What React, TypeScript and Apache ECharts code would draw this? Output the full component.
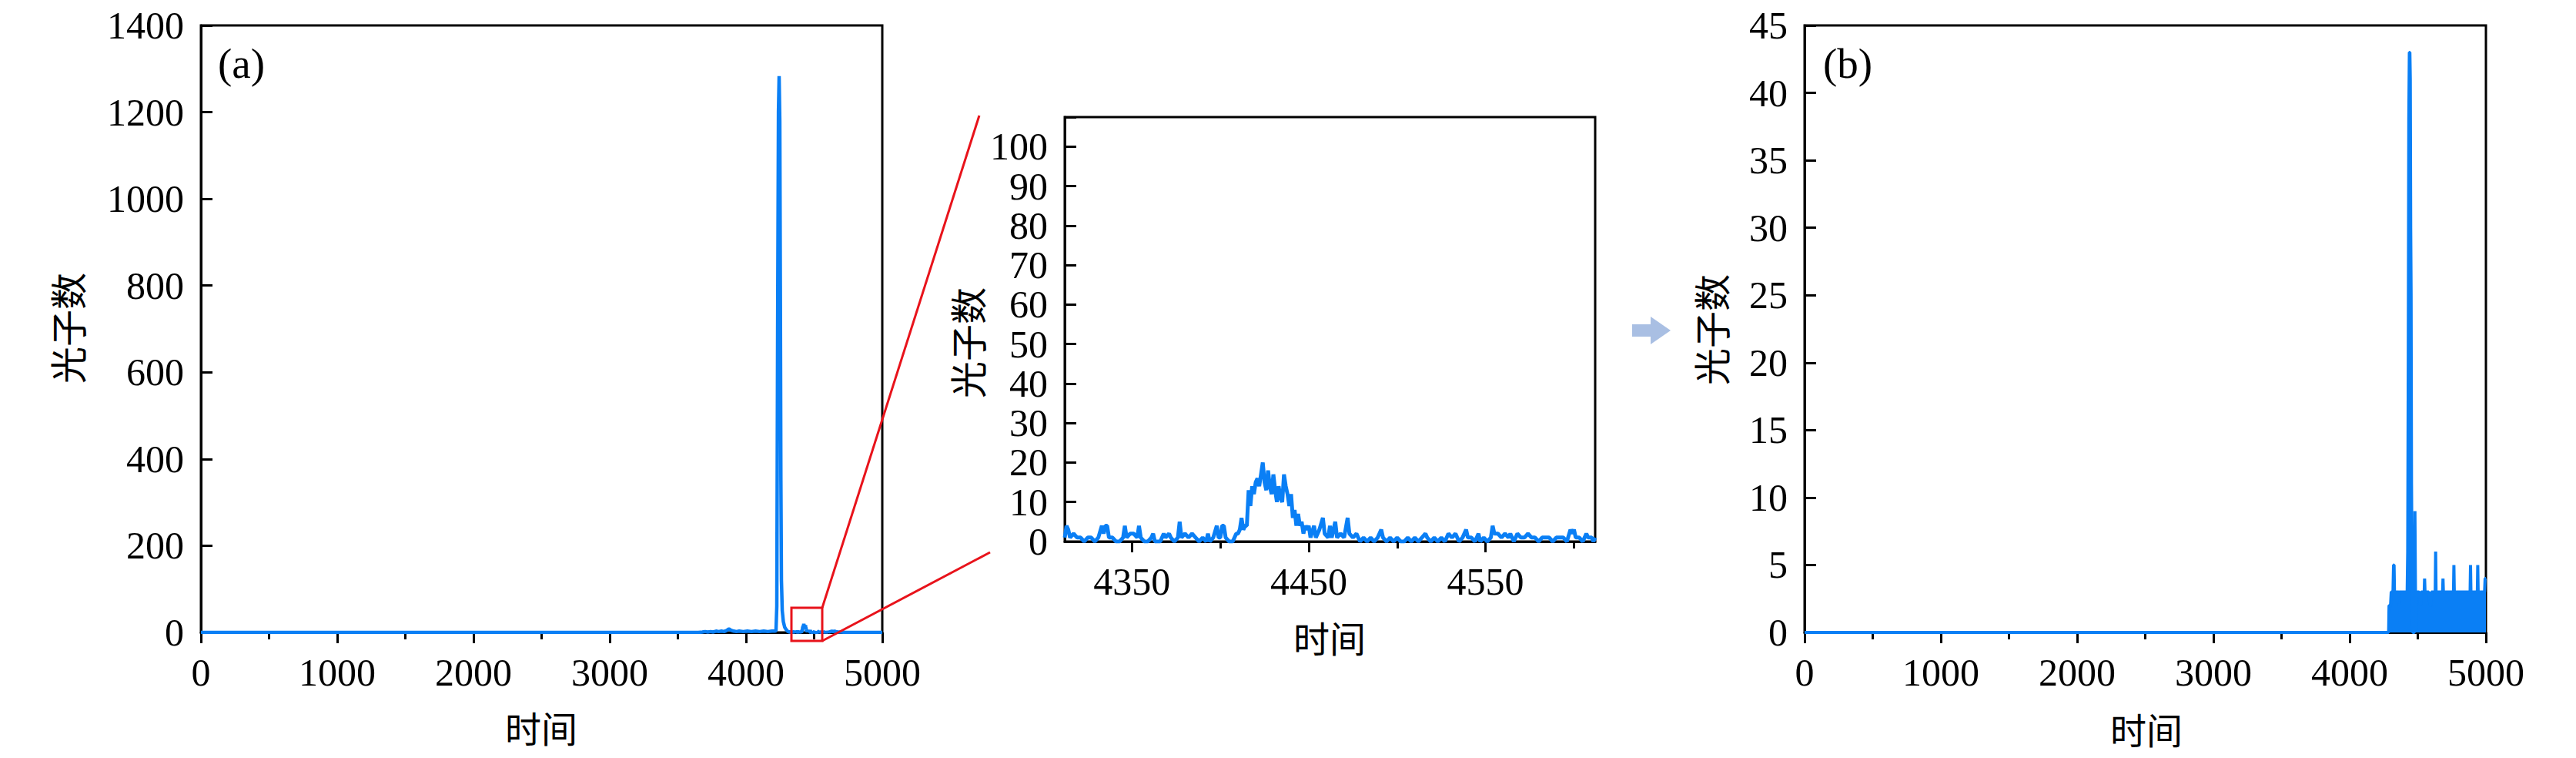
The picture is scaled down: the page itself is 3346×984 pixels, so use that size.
import React, { useEffect, useRef } from "react";
import * as echarts from "echarts";

// ---------------- data ----------------
// Panel (a): raw photon counts vs time
const aBefore: [number, number][] = [
  [0, 0], [3650, 0], [3680, 1], [3700, 2], [3720, 1], [3740, 2], [3760, 1], [3780, 3], [3800, 2],
  [3820, 3], [3840, 2], [3860, 5], [3875, 8], [3890, 5], [3910, 3], [3930, 2], [3950, 3], [3980, 2],
  [4010, 3], [4040, 2], [4070, 3], [4100, 2], [4130, 3], [4160, 2], [4190, 3], [4210, 3], [4220, 4],
  [4226, 60], [4232, 700], [4238, 1200], [4243, 1283], [4248, 1180], [4252, 800], [4256, 350],
  [4260, 120], [4266, 50], [4274, 25], [4284, 12], [4296, 6], [4305, 3],
];

// Inset: zoom of panel (a) between 4312 and 4612
const insetData: [number, number][] = [
  [4312, 1], [4313, 4], [4314, 3], [4315, 1], [4317, 2], [4319, 1], [4321, 1], [4323, 0], [4325, 1],
  [4327, 1], [4329, 0], [4331, 1], [4333, 4], [4334, 2], [4335, 4], [4336, 4], [4337, 1], [4339, 1],
  [4341, 0], [4343, 0], [4345, 1], [4346, 4], [4347, 1], [4349, 2], [4351, 2], [4353, 1], [4354, 4],
  [4355, 1], [4357, 0], [4359, 0], [4361, 1], [4362, 2], [4363, 0], [4366, 0], [4368, 2], [4369, 1],
  [4371, 2], [4372, 1], [4374, 0], [4376, 1], [4377, 5], [4378, 1], [4380, 2], [4382, 1], [4384, 2],
  [4386, 1], [4388, 0], [4390, 1], [4392, 0], [4393, 2], [4394, 0], [4396, 1], [4398, 4], [4399, 1],
  [4400, 1], [4401, 4], [4402, 4], [4403, 1], [4405, 0], [4407, 0], [4409, 2], [4410, 2], [4411, 3],
  [4412, 6], [4413, 3], [4414, 4], [4415, 4], [4416, 13], [4417, 9], [4418, 14], [4419, 12], [4420, 15],
  [4421, 16], [4422, 14], [4423, 17], [4424, 20], [4425, 15], [4426, 13], [4427, 18], [4428, 14],
  [4429, 12], [4430, 17], [4431, 13], [4432, 10], [4433, 14], [4434, 11], [4435, 10], [4436, 17],
  [4437, 14], [4438, 12], [4439, 9], [4440, 12], [4441, 6], [4442, 8], [4443, 4], [4444, 7], [4445, 4],
  [4446, 5], [4447, 2], [4448, 4], [4449, 3], [4450, 4], [4451, 1], [4453, 4], [4454, 1], [4456, 3],
  [4458, 6], [4459, 2], [4461, 1], [4462, 4], [4463, 1], [4465, 5], [4466, 1], [4468, 2], [4470, 1],
  [4472, 6], [4473, 2], [4475, 1], [4477, 2], [4479, 0], [4481, 1], [4483, 0], [4485, 1], [4487, 0],
  [4489, 1], [4491, 3], [4492, 1], [4494, 0], [4496, 1], [4498, 0], [4500, 1], [4502, 0], [4504, 0],
  [4506, 1], [4508, 0], [4510, 1], [4512, 0], [4514, 1], [4516, 2], [4517, 1], [4519, 0], [4521, 1],
  [4523, 0], [4525, 1], [4527, 0], [4529, 2], [4531, 1], [4533, 2], [4535, 0], [4537, 1], [4539, 3],
  [4540, 1], [4542, 1], [4544, 0], [4546, 2], [4547, 0], [4549, 1], [4551, 0], [4553, 1], [4554, 4],
  [4555, 2], [4557, 2], [4559, 1], [4561, 2], [4563, 1], [4564, 2], [4566, 0], [4568, 2], [4570, 1],
  [4572, 1], [4574, 2], [4576, 1], [4578, 1], [4580, 0], [4582, 1], [4584, 1], [4586, 1], [4588, 0],
  [4590, 1], [4592, 1], [4594, 1], [4596, 0], [4598, 3], [4599, 2], [4600, 3], [4601, 1], [4603, 1],
  [4605, 0], [4607, 2], [4608, 1], [4610, 1], [4611, 0], [4612, 1],
];

const aAfter: [number, number][] = [
  [4620, 2], [4630, 3], [4640, 2], [4650, 3], [4660, 2], [4675, 1], [4700, 1], [4730, 0], [5000, 0],
];

// Panel (b): processed counts (noise band drawn as its upper envelope)
const bData: [number, number][] = [
  [0, 0], [4286, 0], [4289, 2], [4300, 2], [4305, 3], [4318, 3], [4322, 5], [4326, 5], [4329, 3],
  [4360, 3], [4362, 2], [4364, 3], [4400, 3], [4422, 3], [4426, 6], [4430, 20], [4434, 38], [4438, 43],
  [4442, 43], [4445, 41], [4448, 30], [4451, 25], [4454, 11], [4457, 6], [4460, 2], [4463, 0], [4475, 0],
  [4479, 9], [4483, 3], [4487, 0], [4491, 3], [4510, 3], [4520, 2], [4525, 3], [4547, 3], [4550, 4],
  [4553, 3], [4580, 3], [4590, 2], [4597, 2], [4600, 3], [4628, 3], [4631, 6], [4634, 3], [4660, 3],
  [4682, 3], [4685, 4], [4688, 3], [4720, 3], [4762, 3], [4765, 5], [4768, 3], [4800, 3], [4884, 3],
  [4887, 5], [4890, 3], [4937, 3], [4940, 5], [4943, 3], [4990, 3], [4994, 4], [5000, 4],
];

// axis ranges / ticks
const aX = { min: 0, max: 5000, step: 1000 };
const aY = { min: 0, max: 1400, step: 200 };
const bX = { min: 0, max: 5000, step: 1000 };
const bY = { min: 0, max: 45, step: 5 };
const insetX = { min: 4312, max: 4612 };
const insetXMajor = [4350, 4450, 4550];
const insetXMinor = [4400, 4500, 4600];
const insetY = { min: 0, max: 107.5, step: 10 };

const Y_NAME = "光子数";
const X_NAME = "时间";

// ---------------- styling ----------------
const BLUE = "#0a7ff5";
const RED = "#e8131b";
const SERIF = "Liberation Serif";
const CJK = "Noto Sans CJK SC";

const axisLine = { show: true, onZero: false, lineStyle: { color: "#000", width: 3 } };
const label = (margin: number) => ({
  color: "#000", fontSize: 50, fontFamily: SERIF, margin,
  formatter: (v: number) => String(v),
});

function xAxisMain(gridIndex: number, r: { min: number; max: number; step: number }) {
  return {
    gridIndex, type: "value", min: r.min, max: r.max, interval: r.step,
    axisLine,
    axisTick: { show: true, inside: false, length: 14, lineStyle: { color: "#000", width: 3 } },
    minorTick: { show: true, splitNumber: 2, length: 9, lineStyle: { color: "#000", width: 3 } },
    axisLabel: label(27),
    splitLine: { show: false }, minorSplitLine: { show: false },
  };
}
function yAxisMain(gridIndex: number, r: { min: number; max: number; step: number }) {
  return {
    gridIndex, type: "value", min: r.min, max: r.max, interval: r.step,
    axisLine,
    axisTick: { show: true, inside: true, length: 15, lineStyle: { color: "#000", width: 3 } },
    axisLabel: label(22),
    splitLine: { show: false },
  };
}

const gridStyle = { show: true, borderColor: "#000", borderWidth: 3, backgroundColor: "transparent", containLabel: false };

export default function App() {
  const ref = useRef<HTMLDivElement>(null);
  useEffect(() => {
    document.body.style.margin = "0";
    const chart = echarts.init(ref.current!, null, { renderer: "svg", width: 3346, height: 984 });
    const aData = [...aBefore, ...insetData, ...aAfter];
    const option: any = {
      animation: false,
      backgroundColor: "#fff",
      grid: [
        { ...gridStyle, left: 261, top: 33, width: 885, height: 788 },
        { ...gridStyle, left: 1383, top: 152, width: 689, height: 551 },
        { ...gridStyle, left: 2344, top: 33, width: 885, height: 788 },
      ],
      xAxis: [
        xAxisMain(0, aX),
        {
          gridIndex: 1, type: "value", min: insetX.min, max: insetX.max, minInterval: 50, maxInterval: 50,
          position: "bottom", axisLine,
          axisTick: { show: true, inside: false, length: 9, customValues: insetXMinor, lineStyle: { color: "#000", width: 3 } },
          axisLabel: { show: false },
          splitLine: { show: false },
        },
        {
          gridIndex: 1, type: "value", min: insetX.min, max: insetX.max, minInterval: 50, maxInterval: 50,
          position: "bottom", axisLine: { show: false, onZero: false },
          axisTick: { show: true, inside: false, length: 14, customValues: insetXMajor, lineStyle: { color: "#000", width: 3 } },
          axisLabel: { ...label(27), customValues: insetXMajor },
          splitLine: { show: false },
        },
        xAxisMain(2, bX),
      ],
      yAxis: [
        yAxisMain(0, aY),
        {
          gridIndex: 1, type: "value", min: insetY.min, max: insetY.max, minInterval: insetY.step, maxInterval: insetY.step,
          axisLine,
          axisTick: { show: true, inside: true, length: 15, lineStyle: { color: "#000", width: 3 } },
          axisLabel: { ...label(22), formatter: (v: number) => (v <= 100 ? String(v) : "") },
          splitLine: { show: false },
        },
        yAxisMain(2, bY),
      ],
      series: [
        {
          type: "line", xAxisIndex: 0, yAxisIndex: 0, data: aData, showSymbol: false, symbol: "none",
          lineStyle: { color: BLUE, width: 4.5 }, z: 3,
        },
        {
          type: "line", xAxisIndex: 1, yAxisIndex: 1, data: insetData, showSymbol: false, symbol: "none",
          lineStyle: { color: BLUE, width: 5 }, z: 3,
        },
        {
          type: "line", xAxisIndex: 3, yAxisIndex: 2, data: bData, showSymbol: false, symbol: "none",
          lineStyle: { color: BLUE, width: 4 }, areaStyle: { color: BLUE, opacity: 1, origin: "start" }, z: 3,
        },
      ],
      graphic: [
        // zoom box and connector lines
        { type: "rect", z: 100, shape: { x: 1028, y: 789, width: 40, height: 43 }, style: { fill: "none", stroke: RED, lineWidth: 3 } },
        { type: "line", z: 100, shape: { x1: 1068, y1: 789, x2: 1272, y2: 150 }, style: { stroke: RED, lineWidth: 3 } },
        { type: "line", z: 100, shape: { x1: 1068, y1: 832, x2: 1286, y2: 717 }, style: { stroke: RED, lineWidth: 3 } },
        // arrow
        { type: "rect", shape: { x: 2120, y: 421, width: 25, height: 16 }, style: { fill: "#a9bfe3" } },
        { type: "polygon", shape: { points: [[2144, 411], [2170, 429], [2144, 447]] }, style: { fill: "#a9bfe3" } },
        // panel tags
        { type: "text", x: 283, y: 82, style: { text: "(a)", fontSize: 55, fontFamily: SERIF, fill: "#000", textAlign: "left", textVerticalAlign: "middle" } },
        { type: "text", x: 2368, y: 82, style: { text: "(b)", fontSize: 55, fontFamily: SERIF, fill: "#000", textAlign: "left", textVerticalAlign: "middle" } },
        // axis names
        { type: "text", x: 86, y: 426, rotation: Math.PI / 2, style: { text: Y_NAME, fontSize: 48, fontFamily: CJK, fill: "#000", textAlign: "center", textVerticalAlign: "middle" } },
        { type: "text", x: 703, y: 943, style: { text: X_NAME, fontSize: 47, fontFamily: CJK, fill: "#000", textAlign: "center", textVerticalAlign: "middle" } },
        { type: "text", x: 1255, y: 445, rotation: Math.PI / 2, style: { text: Y_NAME, fontSize: 48, fontFamily: CJK, fill: "#000", textAlign: "center", textVerticalAlign: "middle" } },
        { type: "text", x: 1727, y: 826, style: { text: X_NAME, fontSize: 47, fontFamily: CJK, fill: "#000", textAlign: "center", textVerticalAlign: "middle" } },
        { type: "text", x: 2221, y: 428, rotation: Math.PI / 2, style: { text: Y_NAME, fontSize: 48, fontFamily: CJK, fill: "#000", textAlign: "center", textVerticalAlign: "middle" } },
        { type: "text", x: 2788, y: 945, style: { text: X_NAME, fontSize: 47, fontFamily: CJK, fill: "#000", textAlign: "center", textVerticalAlign: "middle" } },
      ],
    };
    chart.setOption(option);
    return () => chart.dispose();
  }, []);
  return <div ref={ref} style={{ width: 3346, height: 984 }} />;
}
